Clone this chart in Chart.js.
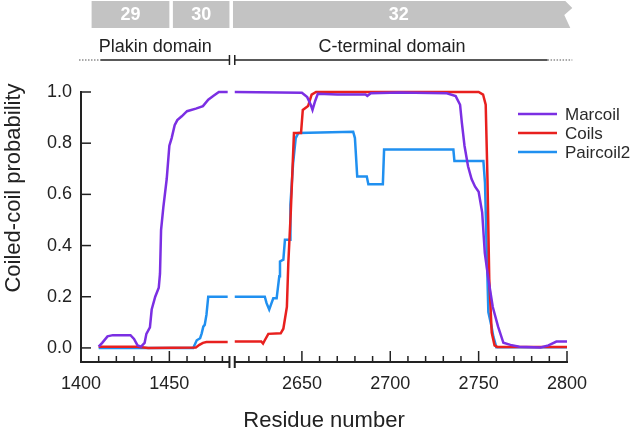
<!DOCTYPE html>
<html>
<head>
<meta charset="utf-8">
<script src="https://cdn.jsdelivr.net/npm/chart.js@4"></script>
<style>
  html, body { margin: 0; padding: 0; background: #fff; }
  canvas { display: block; }
</style>
</head>
<body>
<canvas id="chart" width="631" height="430"></canvas>
<script>
const FONT = '"Liberation Sans", Arial, sans-serif';
const INK = '#222';

// residues right of the axis break are shifted left by this amount
const BREAK_SHIFT = 1125;
const BREAK_FROM = 1484; // axis units
const BREAK_TO = 1487;

const seriesNames = ['Marcoil', 'Coils', 'Paircoil2'];
const seriesColors = ['#7b2fe3', '#e8201e', '#2090f0'];

// Marcoil
const marcoilRes = [1410, 1412, 1415, 1418, 1428, 1430, 1432, 1434, 1436, 1437, 1439, 1440, 1442, 1444, 1444.7, 1445.3, 1446.6, 1448.5, 1450, 1451.3, 1453, 1454.5, 1457, 1460, 1465, 1469, 1472, 1475, 1478, 1483,
  2612, 2650, 2653, 2655, 2656, 2657.5, 2659, 2670, 2686, 2687, 2689, 2705, 2732, 2737, 2739.5, 2740.5, 2742, 2744, 2746, 2748, 2750, 2752, 2753.5, 2755.5, 2758, 2761, 2764, 2768, 2773, 2785, 2789.5, 2794, 2800];
const marcoilVal = [0.005, 0.02, 0.045, 0.05, 0.05, 0.035, 0.01, 0.005, 0.02, 0.055, 0.08, 0.15, 0.2, 0.235, 0.29, 0.46, 0.55, 0.66, 0.79, 0.82, 0.87, 0.89, 0.905, 0.925, 0.935, 0.945, 0.97, 0.985, 1.0, 1.0,
  1.0, 0.997, 0.98, 0.95, 0.93, 0.965, 0.993, 0.99, 0.99, 0.985, 0.995, 0.998, 0.995, 0.984, 0.95, 0.88, 0.79, 0.71, 0.66, 0.63, 0.61, 0.53, 0.37, 0.27, 0.16, 0.083, 0.02, 0.012, 0.005, 0.002, 0.01, 0.025, 0.025];

// Coils
const coilsRes = [1410, 1432, 1438, 1465, 1467, 1469, 1471, 1483,
  2612, 2627, 2628, 2629, 2631, 2638, 2639.5, 2641.5, 2642.3, 2643.7, 2644.8, 2645.5, 2649.5, 2650.5, 2653.5, 2655.5, 2658, 2750, 2752.5, 2754, 2755, 2756, 2757.4, 2759, 2760.5, 2800];
const coilsVal = [0.005, 0.005, 0.0, 0.002, 0.012, 0.02, 0.023, 0.023,
  0.025, 0.025, 0.017, 0.03, 0.055, 0.057, 0.075, 0.16, 0.33, 0.53, 0.72, 0.84, 0.84, 0.93, 0.945, 0.99, 1.0, 1.0, 0.99, 0.95, 0.66, 0.27, 0.06, 0.01, 0.004, 0.004];

// Paircoil2
const paircoilRes = [1410, 1463.5, 1465.5, 1467.4, 1468.3, 1469.2, 1470, 1471, 1472, 1483,
  2612, 2629, 2630, 2631.5, 2632.8, 2633.8, 2635.7, 2637.2, 2637.6, 2639.5, 2640.4, 2642.3, 2643.3, 2643.5, 2645, 2646.5, 2648, 2679, 2680, 2681.3, 2686.7, 2687.6, 2695.8, 2696.5, 2735.7, 2736.3, 2752.7, 2753.6, 2754.5, 2755.5, 2757.4, 2758.3, 2760, 2800];
const paircoilVal = [0.0, 0.0, 0.03, 0.038, 0.057, 0.083, 0.09, 0.13, 0.2, 0.2,
  0.2, 0.2, 0.175, 0.15, 0.175, 0.194, 0.194, 0.28, 0.338, 0.345, 0.423, 0.423, 0.423, 0.56, 0.72, 0.82, 0.84, 0.845, 0.82, 0.67, 0.67, 0.64, 0.64, 0.775, 0.775, 0.73, 0.73, 0.645, 0.4, 0.14, 0.08, 0.045, 0.003, 0.003];

const xTickResidues = [1400, 1410, 1420, 1430, 1440, 1450, 1460, 1470, 1480,
  2620, 2630, 2640, 2650, 2660, 2670, 2680, 2690, 2700, 2710, 2720, 2730, 2740, 2750, 2760, 2770, 2780, 2790, 2800];
const xLabelResidues = [1400, 1450, 2650, 2700, 2750, 2800];
const yTicks = [0, 0.2, 0.4, 0.6, 0.8, 1.0];

// exon bars along the top
const exonNames = ['29', '30', '32'];
const exonStart = [1406, 1452, 2611];
const exonEnd = [1450, 1484, 2803];

// domain lines under the exons
const domainNames = ['Plakin domain', 'C-terminal domain'];
const domainStart = [1411, 2612];
const domainEnd = [1484, 2789];
const domainLabelAt = [1442, 2701];
const domainDotsFrom = 1400;
const domainDotsTo = 2803;

const toAxis = (r) => (r > 2000 ? r - BREAK_SHIFT : r);
const toResidue = (u) => Math.round(u > BREAK_FROM + 1 ? u + BREAK_SHIFT : u);

function toPoints(res, val) {
  const pts = [];
  res.forEach((r, i) => {
    if (i > 0 && res[i - 1] < 2000 && r > 2000) {
      pts.push({ x: (BREAK_FROM + BREAK_TO) / 2, y: null });
    }
    pts.push({ x: toAxis(r), y: val[i] });
  });
  return pts;
}

function seg(ctx, x1, y1, x2, y2) {
  ctx.beginPath();
  ctx.moveTo(x1, y1);
  ctx.lineTo(x2, y2);
  ctx.stroke();
}

const decorations = {
  id: 'decorations',
  afterDraw(chart) {
    const { ctx, chartArea: a, scales: { x, y } } = chart;
    const bx1 = x.getPixelForValue(BREAK_FROM);
    const bx2 = x.getPixelForValue(BREAK_TO);
    ctx.save();

    // axes
    ctx.strokeStyle = INK;
    ctx.lineWidth = 2;
    seg(ctx, a.left, a.top - 1, a.left, a.bottom + 1);
    seg(ctx, a.left, a.bottom, bx1, a.bottom);
    seg(ctx, bx2, a.bottom, a.right + 1, a.bottom);
    seg(ctx, bx1, a.bottom - 6, bx1, a.bottom + 6);
    seg(ctx, bx2, a.bottom - 6, bx2, a.bottom + 6);

    // ticks point inwards
    ctx.lineWidth = 1.5;
    y.ticks.forEach((t) => {
      const py = y.getPixelForValue(t.value);
      seg(ctx, a.left, py, a.left + 10, py);
    });
    x.ticks.forEach((t) => {
      const px = x.getPixelForValue(t.value);
      const len = toResidue(t.value) % 50 === 0 ? 11 : 6;
      seg(ctx, px, a.bottom, px, a.bottom - len);
    });

    // axis titles
    ctx.fillStyle = INK;
    ctx.font = '22px ' + FONT;
    ctx.textAlign = 'center';
    ctx.textBaseline = 'alphabetic';
    ctx.fillText('Residue number', (a.left + a.right) / 2, 427);
    ctx.save();
    ctx.translate(20, 188);
    ctx.rotate(-Math.PI / 2);
    ctx.fillText('Coiled-coil probability', 0, 0);
    ctx.restore();

    // legend
    ctx.font = '17px ' + FONT;
    ctx.textAlign = 'left';
    ctx.textBaseline = 'middle';
    chart.data.datasets.forEach((ds, i) => {
      const ly = 114 + i * 19;
      ctx.strokeStyle = ds.borderColor;
      ctx.lineWidth = 2.5;
      seg(ctx, 518, ly, 557, ly);
      ctx.fillStyle = '#2a2a2a';
      ctx.fillText(ds.label, 565, ly + 1);
    });

    // exon bars
    const top = 1, bot = 28;
    exonNames.forEach((name, i) => {
      const x0 = x.getPixelForValue(toAxis(exonStart[i]));
      const x1 = x.getPixelForValue(toAxis(exonEnd[i]));
      ctx.fillStyle = '#c3c3c3';
      ctx.beginPath();
      if (i === exonNames.length - 1) {
        ctx.moveTo(x0, top);
        ctx.lineTo(x1 - 7, top);
        ctx.lineTo(x1, top + 7);
        ctx.lineTo(x1 - 8, top + 14);
        ctx.lineTo(x1 - 2, bot);
        ctx.lineTo(x0, bot);
      } else {
        ctx.rect(x0, top, x1 - x0, bot - top);
      }
      ctx.closePath();
      ctx.fill();
      ctx.fillStyle = '#fff';
      ctx.font = 'bold 18px ' + FONT;
      ctx.textAlign = 'center';
      const cx = i === exonNames.length - 1 ? (x0 + x1 - 8) / 2 : (x0 + x1) / 2;
      ctx.fillText(name, cx, (top + bot) / 2 + 1);
    });

    // domains
    const dy = 60;
    ctx.strokeStyle = INK;
    ctx.fillStyle = INK;
    ctx.font = '18px ' + FONT;
    ctx.textAlign = 'center';
    ctx.textBaseline = 'alphabetic';
    domainNames.forEach((name, i) => {
      const x0 = x.getPixelForValue(toAxis(domainStart[i]));
      const x1 = x.getPixelForValue(toAxis(domainEnd[i]));
      ctx.lineWidth = 1.5;
      seg(ctx, x0, dy, x1, dy);
      ctx.fillText(name, x.getPixelForValue(toAxis(domainLabelAt[i])), 52);
    });
    seg(ctx, bx1, dy - 5, bx1, dy + 5);
    seg(ctx, bx2, dy - 5, bx2, dy + 5);
    ctx.setLineDash([1.5, 1.5]);
    ctx.lineWidth = 1.2;
    ctx.strokeStyle = '#555';
    seg(ctx, x.getPixelForValue(toAxis(domainDotsFrom)) - 2, dy, x.getPixelForValue(toAxis(domainStart[0])), dy);
    seg(ctx, x.getPixelForValue(toAxis(domainEnd[1])), dy, x.getPixelForValue(toAxis(domainDotsTo)), dy);
    ctx.restore();
  }
};

const series = [
  [marcoilRes, marcoilVal],
  [coilsRes, coilsVal],
  [paircoilRes, paircoilVal]
];

new Chart(document.getElementById('chart'), {
  type: 'line',
  data: {
    datasets: series.map(([res, val], i) => ({
      label: seriesNames[i],
      data: toPoints(res, val),
      borderColor: seriesColors[i],
      backgroundColor: seriesColors[i],
      borderWidth: 2.5,
      pointRadius: 0,
      tension: 0,
      spanGaps: false,
      clip: 6
    }))
  },
  options: {
    responsive: false,
    animation: false,
    devicePixelRatio: 1,
    layout: { padding: { top: 92, right: 64, bottom: 0, left: 0 } },
    plugins: { legend: { display: false }, tooltip: { enabled: false } },
    scales: {
      x: {
        type: 'linear',
        min: 1400,
        max: toAxis(2800),
        grid: { display: false, drawTicks: false },
        border: { display: false },
        afterBuildTicks: (s) => { s.ticks = xTickResidues.map((r) => ({ value: toAxis(r) })); },
        afterFit: (s) => { s.height = 68; },
        ticks: {
          autoSkip: false,
          maxRotation: 0,
          padding: 11,
          color: INK,
          font: { family: FONT, size: 18 },
          callback: (v) => {
            const r = toResidue(v);
            return xLabelResidues.includes(r) ? String(r) : '';
          }
        }
      },
      y: {
        min: -0.055,
        max: 1,
        grid: { display: false, drawTicks: false },
        border: { display: false },
        afterBuildTicks: (s) => { s.ticks = yTicks.map((v) => ({ value: v })); },
        afterFit: (s) => { s.width = 81; },
        ticks: {
          padding: 9,
          color: INK,
          font: { family: FONT, size: 18 },
          callback: (v) => v.toFixed(1)
        }
      }
    }
  },
  plugins: [decorations]
});
</script>
</body>
</html>
